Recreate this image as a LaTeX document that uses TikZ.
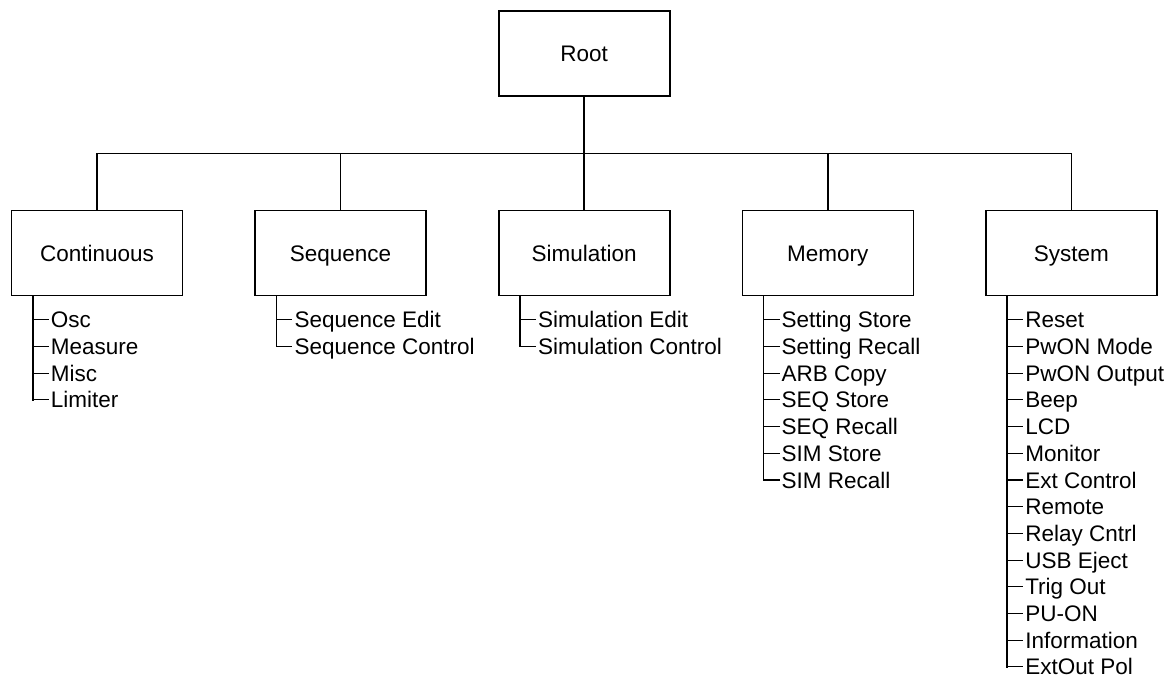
\documentclass[tikz,border=0pt]{standalone}
\usepackage{fontspec}
\setmainfont{Liberation Sans}
\usetikzlibrary{positioning, calc}
\tikzset{
    menubox/.style={rectangle, draw=black, line width=1.6pt, minimum width=171pt, minimum height=85pt, text height=16pt, text depth=0pt, font=\fontsize{22.5}{27}\selectfont},
    subitem/.style={anchor=west, inner xsep=2pt, inner ysep=0pt, text height=16pt, text depth=0pt, font=\fontsize{22.5}{27}\selectfont},
    trunk/.style={line width=1.6pt, line cap=rect},
    twig/.style={line width=1.1pt},
}
\begin{document}
\begin{tikzpicture}[x=1pt, y=1pt, node distance=71pt]
    \useasboundingbox (0,0) rectangle (1173,-682);
    % top level menus
    \node[menubox] (cont) at (97,-253) {Continuous};
    \node[menubox, right=of cont] (seq) {Sequence};
    \node[menubox, right=of seq] (sim) {Simulation};
    \node[menubox, right=of sim] (mem) {Memory};
    \node[menubox, right=of mem] (sys) {System};
    \node[menubox, above=112.6pt of sim] (root) {Root};

    \coordinate (bus) at ($(root.south)!0.5!(sim.north)$);
    \draw[trunk] (root.south) -- (sim.north);
    \draw[trunk] (cont.north) |- (bus) -| (sys.north);
    \foreach \g in {seq, mem}
        \draw[trunk] (\g.north) -- (\g.north |- bus);

    % sub menus
    \foreach \g/\lst in {cont/{Osc,Measure,Misc,Limiter},
                         seq/{Sequence Edit,Sequence Control},
                         sim/{Simulation Edit,Simulation Control},
                         mem/{Setting Store,Setting Recall,ARB Copy,SEQ Store,SEQ Recall,SIM Store,SIM Recall},
                         sys/{Reset,PwON Mode,PwON Output,Beep,LCD,Monitor,Ext Control,Remote,Relay Cntrl,USB Eject,Trig Out,PU-ON,Information,ExtOut Pol}} {
        \coordinate (\g-l0) at ($(\g.south west)+(22,0)$);
        \foreach \t [count=\i, remember=\i as \lasti (initially 0)] in \lst {
            \coordinate (\g-l\i) at ($(\g.south west)+(22,{-23.5-(\i-1)*26.7})$);
            \node[subitem] (\g-t\i) at ($(\g-l\i)+(16,0)$) {\t};
            \draw[trunk] (\g-l\lasti) -- (\g-l\i);
            \draw[twig] (\g-l\i) -- (\g-t\i.west);
        }
    }
\end{tikzpicture}
\end{document}
